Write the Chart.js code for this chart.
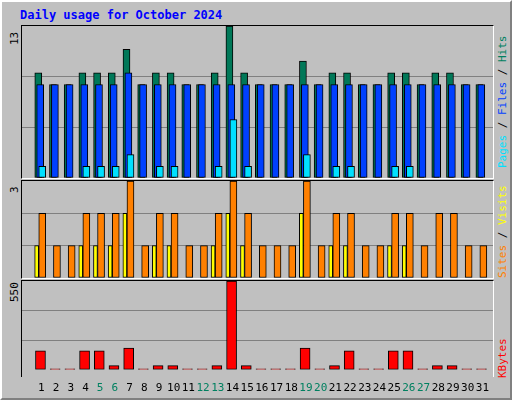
<!DOCTYPE html>
<html><head><meta charset="utf-8">
<script src="https://cdn.jsdelivr.net/npm/chart.js@4/dist/chart.umd.min.js"></script>
<style>
body{margin:0;background:#fff}
#frame{position:absolute;left:0;top:0;width:508px;height:396px;background:#c0c0c0;border:2px solid;border-color:#fff #808080 #808080 #fff;font-family:"DejaVu Sans Mono",monospace}
.panel{position:absolute;left:19px;width:471px;border:1px solid;border-color:#000 #fff #fff #000}
.panel canvas{position:absolute;left:0;top:0}
.rot{position:absolute;transform:rotate(-90deg);transform-origin:left top;white-space:nowrap;font-size:11px}
#title{position:absolute;left:18px;top:6px;color:#0000ff;font-weight:bold;font-size:12px}
</style></head><body>
<div id="frame">
  <div id="title">Daily usage for October 2024</div>
  <div class="panel" style="top:23px;height:152px"><canvas id="c1" width="471" height="152"></canvas></div>
  <div class="panel" style="top:178px;height:97px"><canvas id="c2" width="471" height="97"></canvas></div>
  <div class="panel" style="top:278px;height:96px;border-bottom:none"></div>
  <canvas id="c3" width="471" height="118" style="position:absolute;left:20px;top:279px"></canvas>
  <div class="rot" style="left:6px;top:43px">13</div>
  <div class="rot" style="left:6px;top:191px">3</div>
  <div class="rot" style="left:6px;top:300px">550</div>
  <div class="rot" style="left:494px;top:166px"><span style="color:#00e0ff">Pages</span> / <span style="color:#0040ff">Files</span> / <span style="color:#008060">Hits</span></div>
  <div class="rot" style="left:494px;top:276px"><span style="color:#ff8000">Sites</span> / <span style="color:#ffff00">Visits</span></div>
  <div class="rot" style="left:494px;top:376px"><span style="color:#ff0000">KBytes</span></div>
</div>
<script>
const days = Array.from({length: 31}, (_, i) => i + 1);
const weekend = [5, 6, 12, 13, 19, 20, 26, 27];
const hits   = [9,8,8,9,9,9,11,8,9,9,8,8,9,13,9,8,8,8,10,8,9,9,8,8,9,9,8,9,9,8,8];
const files  = [8,8,8,8,8,8,9,8,8,8,8,8,8,8,8,8,8,8,8,8,8,8,8,8,8,8,8,8,8,8,8];
const pages  = [1,0,0,1,1,1,2,0,1,1,0,0,1,5,1,0,0,0,2,0,1,1,0,0,1,1,0,0,0,0,0];
const visits = [2,1,1,2,2,2,3,1,2,2,1,1,2,3,2,1,1,1,3,1,2,2,1,1,2,2,1,2,2,1,1];
const sites  = [1,0,0,1,1,1,2,0,1,1,0,0,1,2,1,0,0,0,2,0,1,1,0,0,1,1,0,0,0,0,0];
const kbytes = [117,0,0,117,117,26,135,0,26,26,0,0,26,550,26,0,0,0,135,0,26,117,0,0,117,117,0,26,26,0,0];

const pts = (arr, off) => arr.map((v, i) => ({x: days[i] + off, y: v}));
const ds = (label, arr, off, color, w, order, minLen) => ({
  label, data: pts(arr, off), backgroundColor: color, borderColor: '#000',
  borderWidth: 1, borderSkipped: false, barThickness: w, grouped: false, order, minBarLength: minLen
});

function make(id, datasets, max, showX) {
  return new Chart(document.getElementById(id), {
    type: 'bar',
    data: {datasets},
    options: {
      responsive: false, animation: false,
      plugins: {legend: {display: false}, tooltip: {enabled: false}},
      layout: {padding: 0},
      scales: {
        x: {
          type: 'linear', min: 0.5, max: 31.5, display: showX,
          grid: {display: false}, border: {display: false},
          afterBuildTicks: a => { a.ticks = days.map(d => ({value: d + 0.3})); },
          ticks: {
            autoSkip: false, maxRotation: 0, padding: 4,
            font: {family: 'DejaVu Sans Mono', size: 11},
            callback: v => String(Math.round(v - 0.3)),
            color: c => weekend.includes(Math.round(c.tick.value - 0.3)) ? '#008060' : '#000'
          }
        },
        y: {
          min: 0, max, display: true,
          afterFit: a => { a.width = 0; },
          afterBuildTicks: a => { a.ticks = [0, max / 3, max * 2 / 3, max].map(v => ({value: v})); },
          ticks: {display: false, padding: 0}, border: {display: false},
          grid: {color: c => (c.index === 1 || c.index === 2) ? '#808080' : 'rgba(0,0,0,0)', drawTicks: false, lineWidth: 1}
        }
      }
    }
  });
}

make('c1', [
  ds('Hits', hits, 0.09, '#007858', 7, 2, 0),
  ds('Files', files, 0.22, '#0040ff', 7, 1, 0),
  ds('Pages', pages, 0.36, '#00e0ff', 7, 0, 0)
], 13, false);
make('c2', [
  ds('Sites', sites, -0.02, '#ffff00', 4, 1, 0),
  ds('Visits', visits, 0.36, '#ff8000', 7, 0, 0)
], 3, false);
make('c3', [
  ds('KBytes', kbytes, 0.24, '#ff0000', 10, 0, 1)
], 550, true);
</script>
</body></html>
